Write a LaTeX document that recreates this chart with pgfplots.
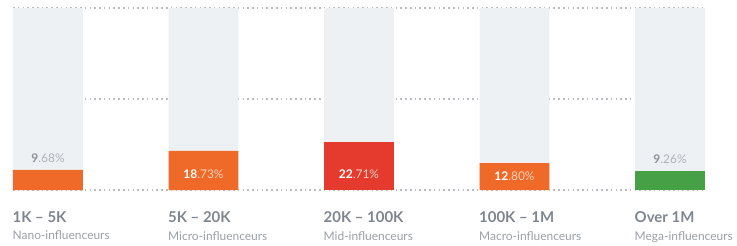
\documentclass[border=0pt]{standalone}
\usepackage{pgfplots}
\pgfplotsset{compat=1.18}
\usepackage{fontspec}
\setmainfont{Lato}
\definecolor{bgbar}{HTML}{EEF1F4}
\definecolor{gridc}{HTML}{B9BCC0}
\definecolor{orangeA}{HTML}{EF6A28}
\definecolor{redA}{HTML}{E53B2F}
\definecolor{greenA}{HTML}{45A046}
\definecolor{catc}{HTML}{7F868F}
\definecolor{subc}{HTML}{9AA0A7}
\definecolor{valdark}{HTML}{8C929A}
\definecolor{vallight}{HTML}{AEB3B9}
\definecolor{wlight}{HTML}{FBD2BE}
\newcommand{\cat}[2]{{\fontsize{15}{18}\selectfont\bfseries\color{catc}#1}\\[6bp]{\fontsize{12}{13}\selectfont\color{subc}#2}}
\begin{document}
\begin{tikzpicture}
\begin{axis}[
  scale only axis, width=692bp, height=182bp,
  xmin=-0.225, xmax=4.225, ymin=0, ymax=87,
  axis line style={draw=none}, tick style={draw=none},
  ytick={0,43.5,87}, yticklabels={}, ymajorgrids,
  grid style={dash pattern=on 1.6pt off 3.2pt, gridc, line width=1.1pt},
  xtick={0,1,2,3,4},
  xticklabels={
    {\cat{1K – 5K}{Nano-influenceurs}},
    {\cat{5K – 20K}{Micro-influenceurs}},
    {\cat{20K – 100K}{Mid-influenceurs}},
    {\cat{100K – 1M}{Macro-influenceurs}},
    {\cat{Over 1M}{Mega-influenceurs}}},
  xticklabel style={align=left, anchor=north west, inner sep=0pt, xshift=-35.5bp, yshift=-21bp},
  clip=false,
]
\addplot[ybar, bar width=0.45, bar shift=0pt, fill=bgbar, draw=none] coordinates {(0,87)(1,87)(2,87)(3,87)(4,87)};
\addplot[ybar, bar width=0.45, bar shift=0pt, fill=orangeA, draw=none] coordinates {(0,9.68)(1,18.73)(3,12.80)};
\addplot[ybar, bar width=0.45, bar shift=0pt, fill=redA, draw=none] coordinates {(2,22.71)};
\addplot[ybar, bar width=0.45, bar shift=0pt, fill=greenA, draw=none] coordinates {(4,9.26)};
\addplot[draw=none, mark=none, nodes near coords, point meta=explicit symbolic,
  nodes near coords style={anchor=center, font=\fontsize{12}{14}\selectfont}]
  coordinates {
    (0,15.3) [{\textcolor{valdark}{\bfseries 9}\textcolor{vallight}{.68\%}}]
    (4,14.9) [{\textcolor{valdark}{\bfseries 9}\textcolor{vallight}{.26\%}}]
  };
\addplot[draw=none, mark=none, nodes near coords, point meta=explicit symbolic,
  nodes near coords style={anchor=center, font=\fontsize{12}{14}\selectfont}]
  coordinates {
    (1,7.6) [{\textcolor{white}{\bfseries 18}\textcolor{wlight}{.73\%}}]
    (2,7.6) [{\textcolor{white}{\bfseries 22}\textcolor{wlight}{.71\%}}]
    (3,6.4) [{\textcolor{white}{\bfseries 12}\textcolor{wlight}{.80\%}}]
  };
\end{axis}
\path ([xshift=-13bp,yshift=8bp]current axis.north west) rectangle ([xshift=32bp,yshift=-56bp]current axis.south east);
\end{tikzpicture}
\end{document}
